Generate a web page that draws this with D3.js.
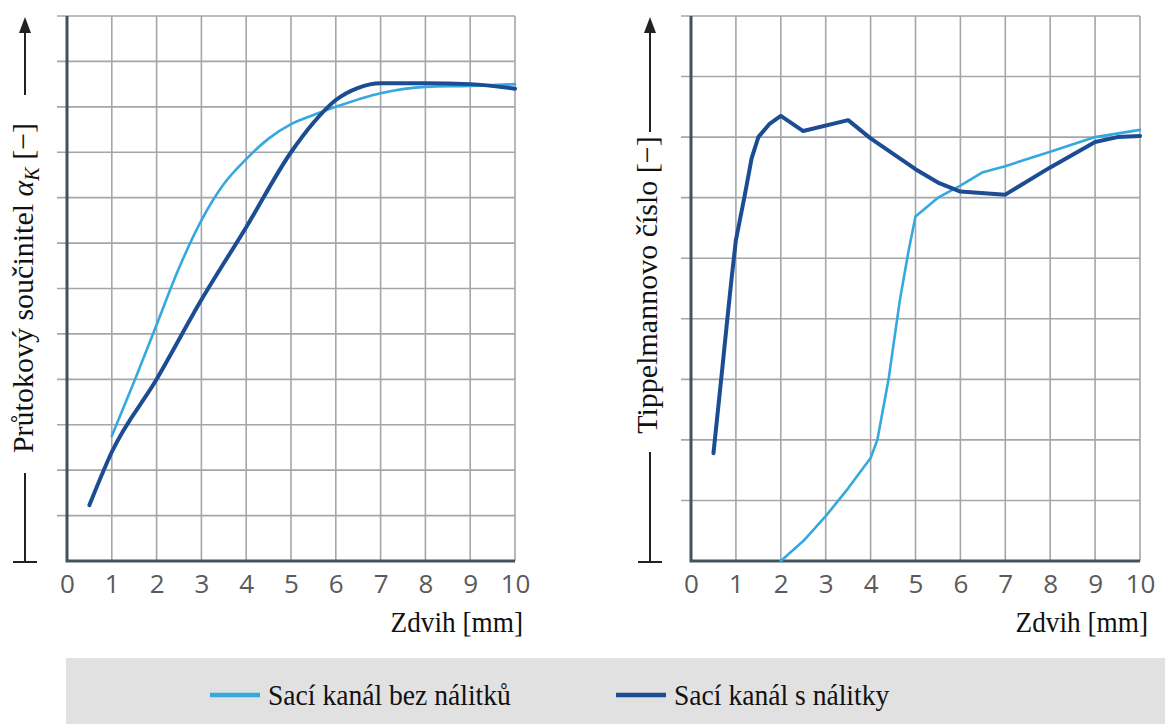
<!DOCTYPE html>
<html>
<head>
<meta charset="utf-8">
<script src="https://cdn.jsdelivr.net/npm/d3@7"></script>
<style>
  html, body { margin: 0; padding: 0; background: #fff; }
  svg { display: block; }
</style>
</head>
<body>
<svg id="chart" width="1165" height="724"></svg>
<script>
// Zdvih ventilu [mm] a naměřené hodnoty (v jednotkách mřížky)
const xTicks = [0, 1, 2, 3, 4, 5, 6, 7, 8, 9, 10];

// Průtokový součinitel α_K
const flowBezX = [1, 1.5, 2, 2.5, 3, 3.5, 4, 4.5, 5, 5.5, 6, 7, 8, 9, 10];
const flowBezY = [2.75, 3.95, 5.2, 6.45, 7.5, 8.3, 8.85, 9.3, 9.62, 9.82, 10.0, 10.3, 10.44, 10.46, 10.5];
const flowSX = [0.5, 1, 2, 3, 4, 5, 5.5, 6, 6.5, 7, 8, 9, 10];
const flowSY = [1.23, 2.4, 4.0, 5.75, 7.35, 9.0, 9.65, 10.15, 10.42, 10.52, 10.52, 10.5, 10.4];

// Tippelmannovo číslo
const tipBezX = [2, 2.5, 3, 3.5, 4, 4.15, 4.4, 4.65, 4.85, 5, 5.5, 6, 6.5, 7, 8, 9, 10];
const tipBezY = [0, 0.33, 0.74, 1.2, 1.7, 2.0, 3.0, 4.3, 5.14, 5.69, 6.0, 6.2, 6.42, 6.52, 6.76, 7.0, 7.12];
const tipSX = [0.5, 0.7, 0.8, 0.9, 1.0, 1.2, 1.35, 1.5, 1.75, 2, 2.5, 3.5, 4, 5, 5.5, 6, 7, 8, 9, 9.5, 10];
const tipSY = [1.78, 3.2, 3.93, 4.64, 5.3, 6.05, 6.65, 7.0, 7.22, 7.35, 7.1, 7.28, 6.98, 6.47, 6.25, 6.1, 6.05, 6.5, 6.92, 7.0, 7.02];

const legendLabels = ["Sací kanál bez nálitků", "Sací kanál s nálitky"];
const colorBez = "#35a8df";
const colorS = "#1c4c92";

const svg = d3.select("#chart");
svg.append("rect").attr("width", 1165).attr("height", 724).attr("fill", "#fff");

const serif = "'Liberation Serif', 'Times New Roman', serif";
const plotTop = 16, plotBottom = 561;

function panel(opts) {
  const x = d3.scaleLinear().domain([0, 10]).range([opts.x0, opts.x1]);
  const y = d3.scaleLinear().domain([0, opts.rows]).range([plotBottom, plotTop]);
  const g = svg.append("g");

  // mřížka
  g.append("g").selectAll("line").data(xTicks.slice(1)).join("line")
    .attr("x1", d => x(d)).attr("x2", d => x(d))
    .attr("y1", plotTop).attr("y2", plotBottom)
    .attr("stroke", "#a4a6a8").attr("stroke-width", 1.6);
  g.append("g").selectAll("line").data(d3.range(1, opts.rows + 1)).join("line")
    .attr("x1", opts.x0 - 10).attr("x2", opts.x1)
    .attr("y1", d => y(d)).attr("y2", d => y(d))
    .attr("stroke", "#a4a6a8").attr("stroke-width", 1.6);

  // osy
  g.append("path")
    .attr("d", `M${opts.x0},${plotTop} V${plotBottom} H${opts.x1}`)
    .attr("fill", "none").attr("stroke", "#46525a").attr("stroke-width", 3);

  // popisky osy x
  const ax = g.append("g").attr("transform", `translate(0,${plotBottom})`)
    .call(d3.axisBottom(x).tickValues(xTicks).tickSize(0).tickPadding(14).tickFormat(d3.format("d")));
  ax.select(".domain").remove();
  ax.selectAll("text").attr("font-family", "'Open Sans', sans-serif")
    .attr("font-size", 26).attr("fill", "#5a5a5a");

  g.append("text")
    .attr("transform", `translate(${opts.x1 + 8},632) scale(0.94,1)`)
    .attr("text-anchor", "end").attr("font-family", serif).attr("font-size", 29)
    .attr("fill", "#111").text("Zdvih [mm]");

  // křivky
  const line = d3.line().x(d => x(d[0])).y(d => y(d[1])).curve(opts.curve);
  g.append("path").datum(d3.zip(opts.bezX, opts.bezY)).attr("d", line)
    .attr("fill", "none").attr("stroke", colorBez).attr("stroke-width", 2.6)
    .attr("stroke-linejoin", "round").attr("stroke-linecap", "round");
  g.append("path").datum(d3.zip(opts.sX, opts.sY)).attr("d", line)
    .attr("fill", "none").attr("stroke", colorS).attr("stroke-width", 4)
    .attr("stroke-linejoin", "round").attr("stroke-linecap", "round");

  // popisek osy y se šipkou
  const ax0 = opts.arrowX;
  g.append("line").attr("x1", ax0).attr("x2", ax0).attr("y1", 32).attr("y2", opts.arrowEnd)
    .attr("stroke", "#222").attr("stroke-width", 2);
  g.append("path").attr("d", `M${ax0},17 L${ax0 - 6},33 L${ax0 + 6},33 Z`).attr("fill", "#222");
  g.append("line").attr("x1", ax0).attr("x2", ax0).attr("y1", opts.barStart).attr("y2", 562)
    .attr("stroke", "#222").attr("stroke-width", 2);
  g.append("line").attr("x1", ax0 - 12).attr("x2", ax0 + 12).attr("y1", 562).attr("y2", 562)
    .attr("stroke", "#222").attr("stroke-width", 2);

  const t = g.append("text")
    .attr("transform", `translate(${opts.labelX},${opts.labelY}) rotate(-90)`)
    .attr("text-anchor", "middle").attr("font-family", serif).attr("font-size", 30)
    .attr("fill", "#111");
  opts.label(t);
}

panel({
  x0: 67, x1: 515, rows: 12, curve: d3.curveMonotoneX,
  bezX: flowBezX, bezY: flowBezY, sX: flowSX, sY: flowSY,
  arrowX: 25, arrowEnd: 95, barStart: 473,
  labelX: 33, labelY: 288,
  label: t => {
    t.append("tspan").text("Průtokový součinitel ");
    t.append("tspan").attr("font-style", "italic").text("α");
    t.append("tspan").attr("font-style", "italic").attr("font-size", 20).attr("dy", 6).text("K");
    t.append("tspan").attr("dy", -6).text(" [−]");
  }
});

panel({
  x0: 691, x1: 1140, rows: 9, curve: d3.curveLinear,
  bezX: tipBezX, bezY: tipBezY, sX: tipSX, sY: tipSY,
  arrowX: 650, arrowEnd: 132, barStart: 452,
  labelX: 657, labelY: 285,
  label: t => t.text("Tippelmannovo číslo [−]")
});

// legenda
const lg = svg.append("g");
lg.append("rect").attr("x", 66).attr("y", 658).attr("width", 1100).attr("height", 66).attr("fill", "#e1e1e1");
const items = [
  { label: legendLabels[0], color: colorBez, x: 210 },
  { label: legendLabels[1], color: colorS, x: 616 }
];
const it = lg.selectAll("g.item").data(items).join("g").attr("transform", d => `translate(${d.x},695)`);
it.append("line").attr("x1", 0).attr("x2", 50).attr("stroke", d => d.color).attr("stroke-width", 4.5);
it.append("text").attr("transform", "translate(58,10) scale(0.92,1)")
  .attr("font-family", serif).attr("font-size", 30)
  .attr("fill", "#111").text(d => d.label);
</script>
</body>
</html>
